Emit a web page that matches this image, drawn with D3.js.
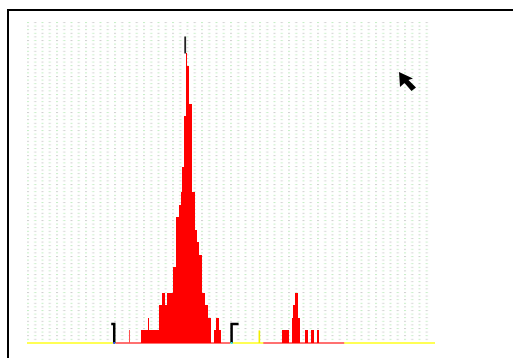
<!DOCTYPE html>
<html>
<head>
<meta charset="utf-8">
<script src="https://cdn.jsdelivr.net/npm/d3@7"></script>
<style>
  html, body { margin: 0; padding: 0; background: #fff; overflow: hidden; }
</style>
</head>
<body>
<div id="app"></div>
<script>
// histogram bins (0..255) with a non-zero count, and their counts
const bins   = [64, 72, 73, 74, 75, 76, 77, 78, 79, 80, 81, 82, 83, 84, 85, 86, 87, 88, 89, 90, 91,
                92, 93, 94, 95, 96, 97, 98, 99, 100, 101, 102, 103, 104, 105, 106, 107, 108, 109, 110, 111,
                112, 113, 114, 115, 118, 119, 120, 121,
                161, 162, 163, 164, 167, 168, 169, 170, 171, 175, 176, 179, 180, 183]
const counts = [1, 1, 1, 1, 1, 2, 1, 1, 1, 1, 1, 1, 3, 3, 4, 4, 3, 4, 4, 4, 4,
                6, 6, 10, 10, 11, 12, 14, 18, 23, 22, 19, 19, 12, 12, 9, 8, 7, 7, 4, 4,
                3, 3, 2, 2, 1, 2, 2, 1,
                1, 1, 1, 1, 2, 3, 4, 4, 2, 1, 1, 1, 1, 1]

// ranges of the baseline drawn in pink (inside the data range)
const rangeStarts = [56, 149]
const rangeEnds   = [128, 200]

// black / white point brackets, cursor bin, peak bin
const blackPoint = 55
const whitePoint = 129
const cursorBin = 146
const peakBin = 100

const W = 513, H = 358
const plot = {left: 27, right: 433, top: 22, bottom: 343}

const x = d3.scaleLinear().domain([0, 256]).range([plot.left, plot.right])
const y = d3.scaleLinear().domain([0, 25.5]).range([plot.bottom, plot.top])

const svg = d3.select('#app').append('svg')
    .attr('width', W)
    .attr('height', H)
    .attr('viewBox', [0, 0, W, H])
    .style('display', 'block')

// dotted grid pattern
const defs = svg.append('defs')
const pat = defs.append('pattern')
    .attr('id', 'dots')
    .attr('patternUnits', 'userSpaceOnUse')
    .attr('x', plot.left).attr('y', plot.top)
    .attr('width', 14.5).attr('height', 7.2)
const dashes = [[0, 0, '#c4eec4'], [7.25, 0, '#cfcfcf'], [0, 3.6, '#cfcfcf'], [7.25, 3.6, '#c4eec4']]
pat.selectAll('rect').data(dashes).join('rect')
    .attr('x', d => d[0]).attr('y', d => d[1])
    .attr('width', 2).attr('height', 1)
    .attr('fill', d => d[2])

svg.append('rect')
    .attr('x', plot.left).attr('y', plot.top)
    .attr('width', plot.right - plot.left)
    .attr('height', plot.bottom - plot.top)
    .attr('fill', 'url(#dots)')

// frame
svg.append('path')
    .attr('d', `M8,${H + 5} V10 H${W + 5}`)
    .attr('fill', 'none')
    .attr('stroke', '#000')
    .attr('stroke-width', 2)

// baseline
svg.append('line')
    .attr('x1', plot.left).attr('x2', plot.right + 2)
    .attr('y1', y(0)).attr('y2', y(0))
    .attr('stroke', '#ffff55')
    .attr('stroke-width', 2)

svg.selectAll('.range')
    .data(d3.range(rangeStarts.length))
    .join('line')
    .attr('class', 'range')
    .attr('x1', i => x(rangeStarts[i])).attr('x2', i => x(rangeEnds[i]))
    .attr('y1', y(0)).attr('y2', y(0))
    .attr('stroke', '#ff7070')
    .attr('stroke-width', 2)

// bars
svg.append('g')
    .attr('shape-rendering', 'crispEdges')
    .selectAll('rect')
    .data(d3.range(bins.length))
    .join('rect')
    .attr('x', i => x(bins[i]))
    .attr('width', i => x(bins[i] + 1) - x(bins[i]) + 0.3)
    .attr('y', i => y(counts[i]))
    .attr('height', i => y(0) - y(counts[i]))
    .attr('fill', i => bins[i] === 64 ? '#ff5050' : '#ff0000')

// cursor spike
svg.append('rect')
    .attr('x', x(cursorBin)).attr('width', 1.6)
    .attr('y', y(1)).attr('height', y(0) - y(1))
    .attr('fill', '#f2ee00')

// peak marker
const peakCount = counts[bins.indexOf(peakBin)]
svg.append('rect')
    .attr('x', x(peakBin) - 1.3).attr('width', 1.8)
    .attr('y', y(peakCount + 1.35)).attr('height', y(peakCount) - y(peakCount + 1.35))
    .attr('fill', '#222')

// black point / white point brackets
const bh = y(1.5)
svg.append('path')
    .attr('d', `M${x(blackPoint) - 3},${bh} H${x(blackPoint)} V${y(0)}`)
    .attr('fill', 'none').attr('stroke', '#000').attr('stroke-width', 2.5)
svg.append('path')
    .attr('d', `M${x(whitePoint) + 7},${bh} H${x(whitePoint)} V${y(0)}`)
    .attr('fill', 'none').attr('stroke', '#000').attr('stroke-width', 2.5)
svg.append('rect').attr('x', x(blackPoint) - 1).attr('y', y(0) - 1).attr('width', 2).attr('height', 2).attr('fill', '#3050ff')
svg.append('rect').attr('x', x(whitePoint) - 1).attr('y', y(0) - 1).attr('width', 2).attr('height', 2).attr('fill', '#30e0ff')

// mouse pointer
svg.append('path')
    .attr('d', 'M399,72 L400,87 L404.5,83 L411.5,91 L416,87.5 L408.5,80 L413,78.5 Z')
    .attr('fill', '#000')
</script>
</body>
</html>
